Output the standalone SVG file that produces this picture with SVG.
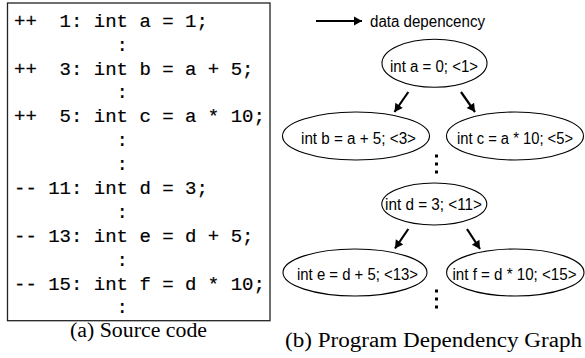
<svg xmlns="http://www.w3.org/2000/svg" width="585" height="358" viewBox="0 0 585 358">
<style>
.code{font-family:"Liberation Mono","DejaVu Sans Mono",monospace;font-size:19px;fill:#000;stroke:#000;stroke-width:0.2;white-space:pre}
.cap{font-family:"Liberation Serif","Times New Roman",serif;font-size:20px;fill:#000}
.lbl{font-family:"Liberation Sans",Arial,sans-serif;font-size:16px;fill:#000;text-anchor:middle}
.node ellipse{fill:#fff;stroke:#000;stroke-width:1.1}
.edge{stroke:#000;stroke-width:2.2;fill:none;marker-end:url(#ah)}
.dot{fill:#000}
</style>
<defs>
<marker id="ah" markerUnits="userSpaceOnUse" markerWidth="12" markerHeight="12" viewBox="-1 -6 11 12" refX="8" refY="0" orient="auto">
<path d="M0,-4.5 L8,0 L0,4.5 z" fill="#000"/>
</marker>
</defs>
<rect width="585" height="358" fill="#fff"/>
<g id="source-code">
<rect x="7.5" y="3" width="262.5" height="317.7" fill="none" stroke="#222" stroke-width="1.3"/>
<text class="code" xml:space="preserve" x="14" y="26.7">++  1: int a = 1;</text>
<text class="code" x="116.6" y="50.6">:</text>
<text class="code" xml:space="preserve" x="14" y="74.5">++  3: int b = a + 5;</text>
<text class="code" x="116.6" y="98.4">:</text>
<text class="code" xml:space="preserve" x="14" y="122.3">++  5: int c = a * 10;</text>
<text class="code" x="116.6" y="146.2">:</text>
<text class="code" x="116.6" y="170.1">:</text>
<text class="code" xml:space="preserve" x="14" y="194">-- 11: int d = 3;</text>
<text class="code" x="116.6" y="217.9">:</text>
<text class="code" xml:space="preserve" x="14" y="241.8">-- 13: int e = d + 5;</text>
<text class="code" x="116.6" y="265.7">:</text>
<text class="code" xml:space="preserve" x="14" y="289.6">-- 15: int f = d * 10;</text>
<text class="code" x="116.6" y="313">:</text>
<text class="cap" x="70" y="337" textLength="137" lengthAdjust="spacingAndGlyphs">(a) Source code</text>
</g>
<g id="legend">
<line class="edge" x1="316" y1="21" x2="362" y2="21"/>
<text class="lbl" x="370" y="27" style="text-anchor:start" textLength="115" lengthAdjust="spacingAndGlyphs">data depencency</text>
</g>
<g id="connectors">
<line class="edge" x1="408.3" y1="92" x2="394.5" y2="112"/>
<line class="edge" x1="461" y1="92" x2="475" y2="112"/>
<line class="edge" x1="408.3" y1="229" x2="395" y2="248.5"/>
<line class="edge" x1="467" y1="229" x2="480" y2="249"/>
<rect class="dot" x="435" y="154.5" width="3" height="3"/>
<rect class="dot" x="435" y="162.5" width="3" height="3"/>
<rect class="dot" x="435" y="170.5" width="3" height="3"/>
<rect class="dot" x="435" y="289.5" width="3" height="3"/>
<rect class="dot" x="435" y="297.5" width="3" height="3"/>
<rect class="dot" x="435" y="305.5" width="3" height="3"/>
</g>
<g id="node-a" class="node">
<ellipse cx="434.5" cy="63.3" rx="52.5" ry="24"/>
<text class="lbl" x="434" y="71.5" textLength="88" lengthAdjust="spacingAndGlyphs">int a = 0; &lt;1&gt;</text>
</g>
<g id="node-b" class="node">
<ellipse cx="356" cy="136" rx="73.5" ry="24"/>
<text class="lbl" x="358.5" y="143.5" textLength="115" lengthAdjust="spacingAndGlyphs">int b = a + 5; &lt;3&gt;</text>
</g>
<g id="node-c" class="node">
<ellipse cx="515" cy="136" rx="68.5" ry="24"/>
<text class="lbl" x="515" y="143.5" textLength="116" lengthAdjust="spacingAndGlyphs">int c = a * 10; &lt;5&gt;</text>
</g>
<g id="node-d" class="node">
<ellipse cx="434.3" cy="204" rx="52.5" ry="21"/>
<text class="lbl" x="433.5" y="210" textLength="97" lengthAdjust="spacingAndGlyphs">int d = 3; &lt;11&gt;</text>
</g>
<g id="node-e" class="node">
<ellipse cx="355" cy="272.5" rx="72" ry="23.5"/>
<text class="lbl" x="357.5" y="279.5" textLength="121" lengthAdjust="spacingAndGlyphs">int e = d + 5; &lt;13&gt;</text>
</g>
<g id="node-f" class="node">
<ellipse cx="515.3" cy="272.5" rx="68.7" ry="23.5"/>
<text class="lbl" x="514.5" y="279.5" textLength="124" lengthAdjust="spacingAndGlyphs">int f = d * 10; &lt;15&gt;</text>
</g>
<g id="caption-b">
<text class="cap" x="285" y="347" textLength="297" lengthAdjust="spacingAndGlyphs">(b) Program Dependency Graph</text>
</g>
</svg>
